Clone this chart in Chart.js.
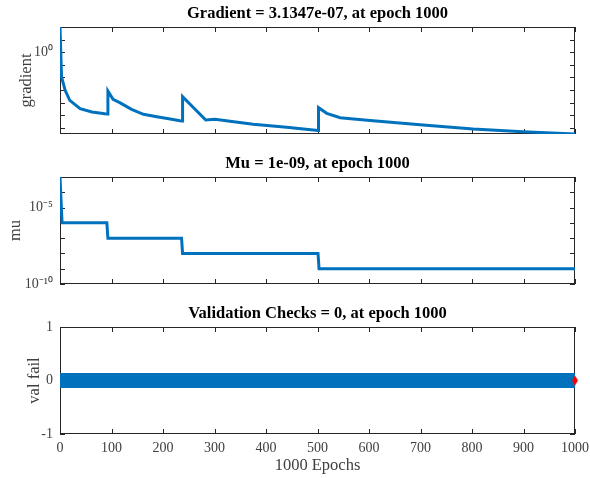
<!DOCTYPE html>
<html>
<head>
<meta charset="utf-8">
<script src="https://cdn.jsdelivr.net/npm/chart.js@4.4.0/dist/chart.umd.min.js"></script>
<style>
  body { margin: 0; background: #fff; }
  #wrap { position: relative; width: 590px; height: 478px; }
  canvas { position: absolute; left: 0; }
</style>
</head>
<body>
<div id="wrap">
  <canvas id="gradChart" width="590" height="150" style="top:0"></canvas>
  <canvas id="muChart" width="590" height="150" style="top:150px"></canvas>
  <canvas id="valChart" width="590" height="178" style="top:300px"></canvas>
</div>
<script>
// Data --------------------------------------------

const gradEpochs = [0, 3, 10, 19, 39, 62, 87, 92, 93, 103, 116, 139, 162, 188, 214, 233, 237, 238, 283, 301,
  330, 375, 440, 501, 502, 518, 544, 570, 608, 705, 802, 899, 1000];
const gradValues = [102, 0.0108, 9.4e-4, 1.5e-4, 3.2e-5, 1.77e-5, 1.29e-5, 1.23e-5, 8.3e-4, 1.8e-4,
  9.7e-5, 2.9e-5, 1.16e-5, 7.4e-6, 4.9e-6, 3.55e-6, 3.4e-6, 2.9e-4, 4.1e-6, 4.7e-6,
  3.2e-6, 1.86e-6, 1.07e-6, 5.9e-7, 3.9e-5, 1.38e-5, 6.2e-6, 4.9e-6, 3.55e-6, 1.62e-6,
  7.8e-7, 4.8e-7, 3.1347e-7];

const muEpochs = [0, 4, 91, 93, 236, 238, 501, 503, 1000];
const muValues = [1e-3, 1e-6, 1e-6, 1e-7, 1e-7, 1e-8, 1e-8, 1e-9, 1e-9];

const valEpochs = [0, 1000];
const valFail = [0, 0];
const bestEpoch = [1000];
const bestVal = [0];

const xTickValues = [0, 100, 200, 300, 400, 500, 600, 700, 800, 900, 1000];
const xTickLabels = ['0', '100', '200', '300', '400', '500', '600', '700', '800', '900', '1000'];
const gradTickValues = [1e-6, 1e-5, 1e-4, 1e-3, 1e-2, 1e-1, 1e0, 1e1, 1e2];
const gradTickLabels = ['', '', '', '', '', '', '10⁰', '', ''];
const muTickValues = [1e-10, 1e-9, 1e-8, 1e-7, 1e-6, 1e-5, 1e-4, 1e-3];
const muTickLabels = ['10⁻¹⁰', '', '', '', '', '10⁻⁵', '', ''];
const valTickValues = [-1, 0, 1];
const valTickLabels = ['-1', '0', '1'];

// Styles --------------------------------------------

const serif = "'Liberation Serif', 'Times New Roman', serif";
const blue = '#0072BD';
const axisColor = '#262626';
const textColor = '#404040';

// box with inward ticks on all four sides, like matlab axes
const axesBox = {
  id: 'axesBox',
  beforeDatasetsDraw(chart) {
    const {ctx, chartArea: a, scales} = chart;
    ctx.save();
    ctx.strokeStyle = axisColor;
    ctx.lineWidth = 1;
    ctx.beginPath();
    scales.x.ticks.forEach(t => {
      const px = Math.round(scales.x.getPixelForValue(t.value)) + 0.5;
      ctx.moveTo(px, a.bottom); ctx.lineTo(px, a.bottom - 5);
      ctx.moveTo(px, a.top); ctx.lineTo(px, a.top + 5);
    });
    scales.y.ticks.forEach(t => {
      const py = Math.round(scales.y.getPixelForValue(t.value)) + 0.5;
      ctx.moveTo(a.left, py); ctx.lineTo(a.left + 5, py);
      ctx.moveTo(a.right, py); ctx.lineTo(a.right - 5, py);
    });
    ctx.stroke();
    ctx.strokeRect(a.left + 0.5, a.top + 0.5, a.right - a.left - 1, a.bottom - a.top - 1);
    ctx.restore();
  }
};

function diamond(w, h, color) {
  const c = document.createElement('canvas');
  c.width = w; c.height = h;
  const g = c.getContext('2d');
  g.fillStyle = color;
  g.beginPath();
  g.moveTo(w / 2, 0); g.lineTo(w, h / 2); g.lineTo(w / 2, h); g.lineTo(0, h / 2);
  g.closePath();
  g.fill();
  return c;
}

function points(xs, ys) {
  return xs.map((x, i) => ({x: x, y: ys[i]}));
}

function titleOpts(text) {
  return {
    display: true, text: text, fullSize: false, color: '#000',
    font: {family: serif, size: 16.5, weight: 'bold'},
    padding: {top: 4, bottom: 3.2}
  };
}

function xScale(showLabels, height) {
  return {
    type: 'linear', min: 0, max: 1000,
    afterBuildTicks: s => { s.ticks = xTickValues.map(v => ({value: v})); },
    afterFit: s => { s.height = height; s.paddingLeft = 0; s.paddingRight = 0; },
    ticks: {
      display: showLabels, maxRotation: 0, autoSkip: false, padding: 0,
      callback: (v, i) => xTickLabels[i],
      font: {family: serif, size: 14}, color: textColor
    },
    // invisible tick marks only push the labels down (the box plugin draws the real ones)
    grid: {display: true, drawOnChartArea: false, drawTicks: true, tickLength: 6, tickColor: 'rgba(0,0,0,0)'},
    border: {display: false},
    title: {
      display: showLabels, text: '1000 Epochs', color: textColor,
      font: {family: serif, size: 16.5}, padding: {top: 0, bottom: 2}
    }
  };
}

function yScale(type, min, max, tickValues, tickLabels, label, titlePad) {
  return {
    type: type, min: min, max: max,
    afterBuildTicks: s => { s.ticks = tickValues.map(v => ({value: v})); },
    afterFit: s => { s.width = 60; },
    ticks: {
      autoSkip: false, padding: 7,
      callback: (v, i) => tickLabels[i],
      font: {family: serif, size: 14}, color: textColor
    },
    grid: {display: false, drawTicks: false},
    border: {display: false},
    title: {
      display: true, text: label, color: textColor,
      font: {family: serif, size: 16.5}, padding: {top: titlePad, bottom: 0}
    }
  };
}

const common = {
  responsive: false,
  animation: false,
  layout: {autoPadding: false, padding: {left: 0, right: 15, top: 0, bottom: 0}}
};

// Gradient --------------------------------------------

new Chart(document.getElementById('gradChart'), {
  type: 'line',
  data: {
    datasets: [{
      data: points(gradEpochs, gradValues),
      borderColor: blue, borderWidth: 3, pointRadius: 0, tension: 0, fill: false
    }]
  },
  options: Object.assign({}, common, {
    plugins: {legend: {display: false}, tooltip: {enabled: false}, title: titleOpts('Gradient = 3.1347e-07, at epoch 1000')},
    scales: {
      x: xScale(false, 16),
      y: yScale('logarithmic', Math.min(...gradValues), Math.max(...gradValues), gradTickValues, gradTickLabels, 'gradient', 17)
    }
  }),
  plugins: [axesBox]
});

// Mu --------------------------------------------

new Chart(document.getElementById('muChart'), {
  type: 'line',
  data: {
    datasets: [{
      data: points(muEpochs, muValues),
      borderColor: blue, borderWidth: 3, pointRadius: 0, tension: 0, fill: false
    }]
  },
  options: Object.assign({}, common, {
    plugins: {legend: {display: false}, tooltip: {enabled: false}, title: titleOpts('Mu = 1e-09, at epoch 1000')},
    scales: {
      x: xScale(false, 16),
      y: yScale('logarithmic', 1e-10, 1e-3, muTickValues, muTickLabels, 'mu', 6)
    }
  }),
  plugins: [axesBox]
});

// Validation checks --------------------------------------------

new Chart(document.getElementById('valChart'), {
  type: 'line',
  data: {
    datasets: [{
      data: points(bestEpoch, bestVal),
      showLine: false, pointStyle: diamond(6, 10, '#ff0000'), pointRadius: 5, pointBorderWidth: 0, clip: false
    }, {
      data: points(valEpochs, valFail),
      borderColor: blue, borderWidth: 15, borderCapStyle: 'butt', tension: 0, fill: false,
      pointStyle: diamond(10, 15, blue), pointRadius: 5, pointBorderWidth: 0
    }]
  },
  options: Object.assign({}, common, {
    plugins: {legend: {display: false}, tooltip: {enabled: false}, title: titleOpts('Validation Checks = 0, at epoch 1000')},
    scales: {
      x: xScale(true, 44),
      y: yScale('linear', -1, 1, valTickValues, valTickLabels, 'val fail', 24.5)
    }
  }),
  plugins: [axesBox]
});
</script>
</body>
</html>
